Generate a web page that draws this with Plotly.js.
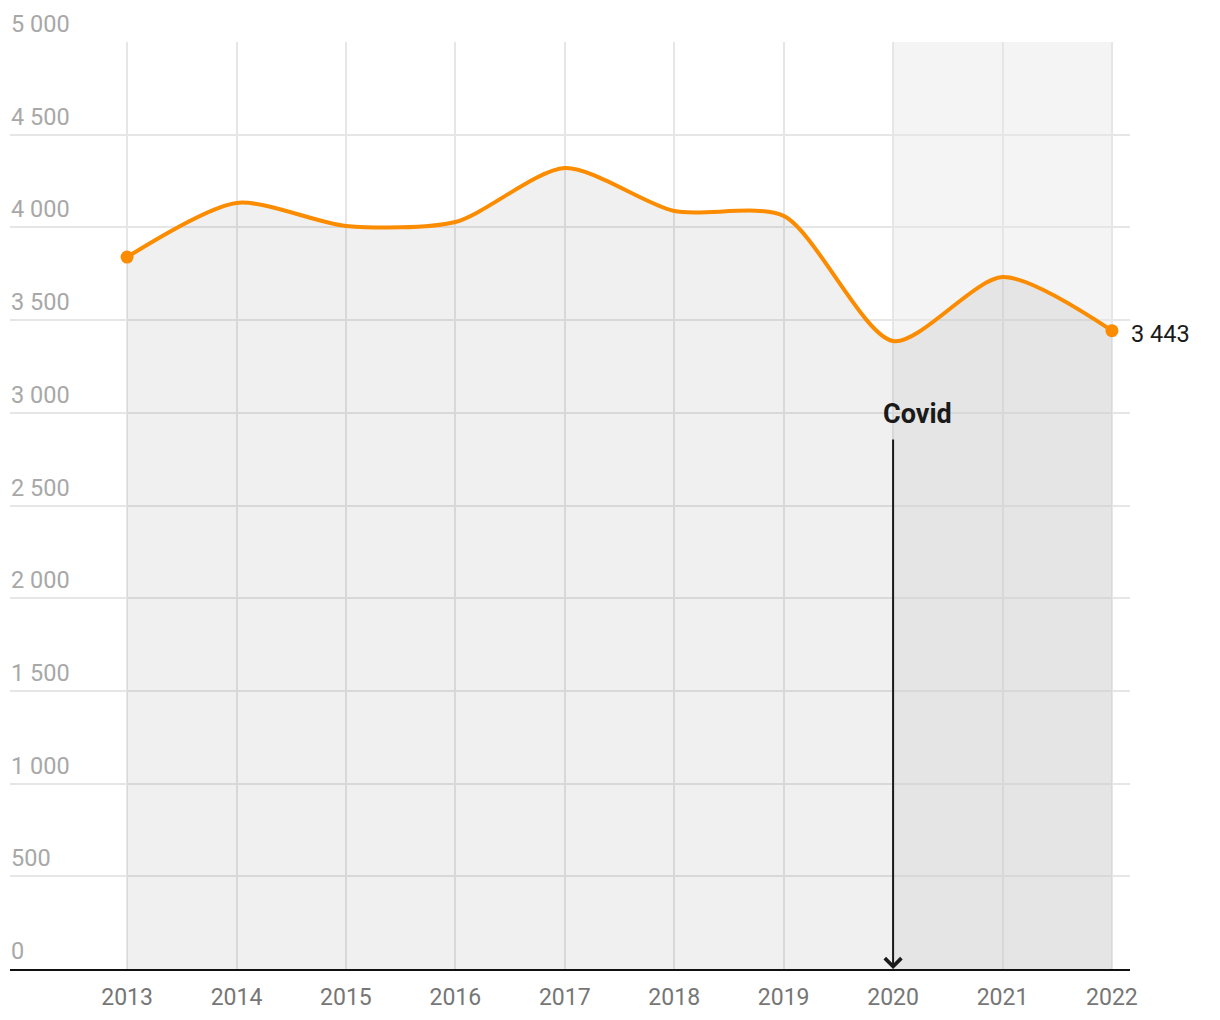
<!DOCTYPE html>
<html>
<head>
<meta charset="utf-8">
<script src="https://cdn.plot.ly/plotly-3.0.1.min.js"></script>
<style>
  html, body { margin: 0; padding: 0; background: #ffffff; }
  #chart { width: 1220px; height: 1020px; }
</style>
</head>
<body>
<div id="chart"></div>
<script>
// ---- data ----
const years = [2013, 2014, 2015, 2016, 2017, 2018, 2019, 2020, 2021, 2022];
const values = [3840, 4132, 4008, 4029, 4320, 4088, 4062, 3387, 3732, 3443];
const yTicks = [0, 500, 1000, 1500, 2000, 2500, 3000, 3500, 4000, 4500, 5000];
const covidYear = 2020;
const covidLabel = "Covid";
const covidLabelValue = 3000;
const covidArrowTop = 2864;

function fmt(v) {
  return String(Math.round(v)).replace(/\B(?=(\d{3})+(?!\d))/g, " ");
}

const FONT = "Roboto, 'Noto Sans', sans-serif";
const ORANGE = "#fb8c00";
const n = years.length;

const traces = [
  {
    x: years, y: values, type: "scatter", mode: "lines",
    line: { color: ORANGE, width: 4, shape: "spline", smoothing: 0.75 },
    fill: "tozeroy", fillcolor: "rgba(0,0,0,0.058)",
    hoverinfo: "skip", cliponaxis: false
  },
  {
    x: [years[0], years[n - 1]], y: [values[0], values[n - 1]],
    type: "scatter", mode: "markers",
    marker: { color: ORANGE, size: 13 },
    hoverinfo: "skip", cliponaxis: false
  }
];

const annotations = [];
yTicks.forEach(t => {
  annotations.push({
    xref: "paper", yref: "y", x: 0, y: t, xanchor: "left", yanchor: "bottom",
    text: fmt(t), showarrow: false, yshift: 2, xshift: -1,
    font: { family: FONT, size: 23.5, color: "#a8a8a8" }
  });
});
annotations.push({
  xref: "x", yref: "y", x: years[n - 1], y: values[n - 1],
  xanchor: "left", yanchor: "middle", xshift: 17, yshift: -3,
  text: fmt(values[n - 1]), showarrow: false,
  font: { family: FONT, size: 23.5, color: "#1a1a1a" }
});
annotations.push({
  xref: "x", yref: "y", x: covidYear, y: covidLabelValue,
  xanchor: "left", yanchor: "middle", xshift: -12, yshift: -1,
  text: "<b>" + covidLabel + "</b>", showarrow: false,
  font: { family: FONT, size: 27, color: "#1a1a1a" }
});
annotations.push({
  xref: "x", yref: "y", x: covidYear, y: 0,
  axref: "x", ayref: "y", ax: covidYear, ay: covidArrowTop,
  text: "", showarrow: true, arrowhead: 4, arrowsize: 1.6, arrowwidth: 2,
  arrowcolor: "#1a1a1a", standoff: 0, startstandoff: 0
});

const layout = {
  width: 1220, height: 1020,
  margin: { l: 10, r: 90, t: 42, b: 51 },
  paper_bgcolor: "#ffffff", plot_bgcolor: "#ffffff",
  showlegend: false,
  font: { family: FONT },
  xaxis: {
    range: [2011.93, 2022.165],
    tickvals: years, ticktext: years.map(String),
    showgrid: true, gridcolor: "#e6e6e6", gridwidth: 2,
    zeroline: false, showline: true, linecolor: "#111111", linewidth: 2,
    ticks: "", ticklabelstandoff: 6,
    tickfont: { family: FONT, size: 23, color: "#767676" },
    fixedrange: true
  },
  yaxis: {
    range: [0, 5000],
    tickvals: yTicks, showticklabels: false,
    showgrid: true, gridcolor: "#e6e6e6", gridwidth: 2,
    zeroline: false, showline: false, ticks: "",
    fixedrange: true
  },
  shapes: [
    {
      type: "rect", xref: "x", yref: "y",
      x0: covidYear, x1: years[n - 1], y0: 0, y1: yTicks[yTicks.length - 1],
      fillcolor: "#f4f4f4", line: { width: 0 }, layer: "below"
    }
  ],
  annotations: annotations
};

Plotly.newPlot("chart", traces, layout, { staticPlot: true, displayModeBar: false });
</script>
</body>
</html>
